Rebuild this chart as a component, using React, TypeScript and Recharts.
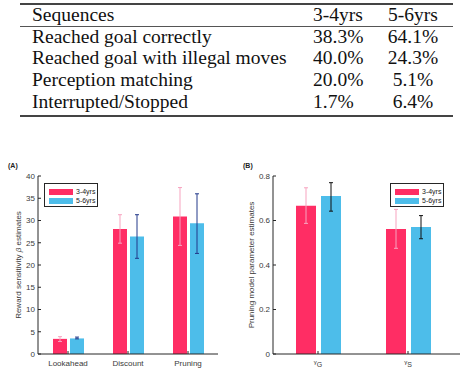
import React from 'react';
import { BarChart, Bar, XAxis, YAxis, ErrorBar, Legend, Label } from 'recharts';

// ---------- table data ----------
const tableHeader = ['Sequences', '3-4yrs', '5-6yrs'];
const sequenceNames = [
  'Reached goal correctly',
  'Reached goal with illegal moves',
  'Perception matching',
  'Interrupted/Stopped',
];
const pctYoung = ['38.3%', '40.0%', '20.0%', '1.7%'];
const pctOld = ['64.1%', '24.3%', '5.1%', '6.4%'];

// ---------- chart data ----------
const seriesNames = ['3-4yrs', '5-6yrs'];

const modelNames = ['Lookahead', 'Discount', 'Pruning'];
const betaYoung = [3.4, 28.1, 30.9];
const betaYoungLow = [2.8, 24.9, 24.4];
const betaYoungHigh = [3.9, 31.3, 37.4];
const betaOld = [3.5, 26.4, 29.4];
const betaOldLow = [3.4, 21.5, 22.6];
const betaOldHigh = [3.8, 31.3, 36.0];
const betaTicks = [0, 5, 10, 15, 20, 25, 30, 35, 40];

const paramNames = ['G', 'S'];
const paramYoung = [0.666, 0.562];
const paramYoungLow = [0.587, 0.475];
const paramYoungHigh = [0.747, 0.65];
const paramOld = [0.71, 0.571];
const paramOldLow = [0.642, 0.518];
const paramOldHigh = [0.77, 0.622];
const paramTicks = [0, 0.2, 0.4, 0.6, 0.8];

const RED = '#ff2d64';
const BLUE = '#4dbdea';
const PINK_ERR = '#f7a3bf';
const NAVY_ERR = '#23398a';
const AXIS = '#262626';
const TICKTXT = '#3a3a3a';
const SANS = '"Liberation Sans", Arial, sans-serif';
const SERIF = '"Liberation Serif", Tinos, "Times New Roman", Times, "DejaVu Serif", serif';

const build = (names, y, yl, yh, o, ol, oh) =>
  names.map((name, i) => ({
    name,
    young: y[i],
    youngErr: [y[i] - yl[i], yh[i] - y[i]],
    old: o[i],
    oldErr: [o[i] - ol[i], oh[i] - o[i]],
  }));

const dataA = build(modelNames, betaYoung, betaYoungLow, betaYoungHigh, betaOld, betaOldLow, betaOldHigh);
const dataB = build(paramNames, paramYoung, paramYoungLow, paramYoungHigh, paramOld, paramOldLow, paramOldHigh);

const LegendBox = () => (
  <div
    style={{
      border: `1px solid ${AXIS}`,
      background: '#fff',
      width: 54,
      height: 24,
      boxSizing: 'border-box',
      fontFamily: SANS,
      fontSize: 7,
      color: '#222',
      padding: '3px 0 0 4px',
      whiteSpace: 'nowrap',
    }}
  >
    {seriesNames.map((s, i) => (
      <div key={s} style={{ display: 'flex', alignItems: 'center', height: 9, lineHeight: '9px' }}>
        <span
          style={{ display: 'inline-block', flexShrink: 0, width: 24, height: 6, background: i === 0 ? RED : BLUE, marginRight: 3 }}
        />
        <span style={{ flexShrink: 0 }}>{s}</span>
      </div>
    ))}
  </div>
);

const tickStyle = { fontSize: 8, fill: TICKTXT, fontFamily: SANS };

const YLabel = ({ viewBox, x, children }) => {
  const cy = viewBox.y + viewBox.height / 2;
  return (
    <text
      x={0}
      y={0}
      transform={`translate(${x}, ${cy}) rotate(-90)`}
      textAnchor="middle"
      fontSize={8}
      fill={TICKTXT}
      fontFamily={SANS}
    >
      {children}
    </text>
  );
};

const GammaTick = (props) => {
  const { x, y, payload } = props;
  return (
    <text x={x} y={y + 5} textAnchor="middle" fontSize={8} fill={TICKTXT} fontFamily={SANS}>
      <tspan fontSize={6} dy={-1}>γ</tspan>
      <tspan fontSize={7} dy={2.5}>{payload.value}</tspan>
    </text>
  );
};

const ChartA = () => (
  <BarChart
    width={236}
    height={222}
    data={dataA}
    margin={{ top: 16, right: 18, bottom: 8, left: 8 }}
    barSize={14}
    barGap={3}
  >
    <XAxis
      dataKey="name"
      height={20}
      tickSize={-3}
      tickMargin={9}
      tick={tickStyle}
      stroke={AXIS}
      axisLine={{ stroke: AXIS }}
      tickLine={{ stroke: AXIS }}
    />
    <XAxis
      xAxisId="top"
      dataKey="name"
      orientation="top"
      height={0}
      tickSize={-3}
      tickFormatter={() => ''}
      axisLine={{ stroke: AXIS }}
      tickLine={{ stroke: AXIS }}
    />
    <YAxis
      width={30}
      domain={[0, 40]}
      ticks={betaTicks}
      tickSize={-3}
      tickMargin={6}
      tick={tickStyle}
      axisLine={{ stroke: AXIS }}
      tickLine={{ stroke: AXIS }}
      interval={0}
    >
      <Label
        content={(p) => (
          <YLabel viewBox={p.viewBox} x={21}>
            Reward sensitivity <tspan fontStyle="italic">β</tspan> estimates
          </YLabel>
        )}
      />
    </YAxis>
    <YAxis
      yAxisId="right"
      orientation="right"
      width={0}
      domain={[0, 40]}
      ticks={betaTicks}
      tickSize={-3}
      tickFormatter={() => ''}
      axisLine={{ stroke: AXIS }}
      tickLine={{ stroke: AXIS }}
      interval={0}
    />
    <Legend
      layout="vertical"
      align="center"
      verticalAlign="middle"
      content={() => <LegendBox />}
      wrapperStyle={{ left: 44, top: 23, width: 54, height: 24 }}
    />
    <Bar dataKey="young" name={seriesNames[0]} fill={RED} isAnimationActive={false}>
      <ErrorBar dataKey="youngErr" width={2} stroke={PINK_ERR} strokeWidth={1} />
    </Bar>
    <Bar dataKey="old" name={seriesNames[1]} fill={BLUE} isAnimationActive={false}>
      <ErrorBar dataKey="oldErr" width={2} stroke={NAVY_ERR} strokeWidth={1} />
    </Bar>
  </BarChart>
);

const ChartB = () => (
  <BarChart
    width={240}
    height={222}
    data={dataB}
    margin={{ top: 16, right: 8, bottom: 8, left: 8 }}
    barSize={20}
    barGap={5}
  >
    <XAxis
      dataKey="name"
      height={20}
      tickSize={-3}
      tickMargin={9}
      tick={<GammaTick />}
      padding={{ left: 0, right: 7 }}
      axisLine={{ stroke: AXIS }}
      tickLine={{ stroke: AXIS }}
    />
    <XAxis
      xAxisId="top"
      dataKey="name"
      orientation="top"
      height={0}
      tickSize={-3}
      padding={{ left: 0, right: 7 }}
      tickFormatter={() => ''}
      axisLine={{ stroke: AXIS }}
      tickLine={{ stroke: AXIS }}
    />
    <YAxis
      width={37}
      domain={[0, 0.8]}
      ticks={paramTicks}
      tickSize={-3}
      tickMargin={6}
      tick={tickStyle}
      axisLine={{ stroke: AXIS }}
      tickLine={{ stroke: AXIS }}
      interval={0}
    >
      <Label
        content={(p) => (
          <YLabel viewBox={p.viewBox} x={26}>
            Pruning model parameter estimates
          </YLabel>
        )}
      />
    </YAxis>
    <YAxis
      yAxisId="right"
      orientation="right"
      width={0}
      domain={[0, 0.8]}
      ticks={paramTicks}
      tickSize={-3}
      tickFormatter={() => ''}
      axisLine={{ stroke: AXIS }}
      tickLine={{ stroke: AXIS }}
      interval={0}
    />
    <Legend
      layout="vertical"
      align="center"
      verticalAlign="middle"
      content={() => <LegendBox />}
      wrapperStyle={{ left: 162, top: 23, width: 54, height: 24 }}
    />
    <Bar dataKey="young" name={seriesNames[0]} fill={RED} isAnimationActive={false}>
      <ErrorBar dataKey="youngErr" width={2} stroke={PINK_ERR} strokeWidth={1} />
    </Bar>
    <Bar dataKey="old" name={seriesNames[1]} fill={BLUE} isAnimationActive={false}>
      <ErrorBar dataKey="oldErr" width={2} stroke="#111" strokeWidth={1} />
    </Bar>
  </BarChart>
);

const rowCenters = [15, 36.5, 58, 80, 101.5];

const cellBase = { position: 'absolute', lineHeight: '22px', fontFamily: SERIF, whiteSpace: 'nowrap' };

const TableRow = ({ cy, cells }) => (
  <>
    <div style={{ ...cellBase, left: 32, top: cy - 11 }}>{cells[0]}</div>
    <div style={{ ...cellBase, left: 313, top: cy - 11 }}>{cells[1]}</div>
    <div style={{ ...cellBase, left: 373, width: 80, textAlign: 'center', top: cy - 11 }}>{cells[2]}</div>
  </>
);

export default function App() {
  return (
    <div
      style={{
        position: 'absolute',
        left: 0,
        top: 0,
        width: 468,
        height: 382,
        background: '#fff',
        overflow: 'hidden',
      }}
    >
      <div
        style={{
          position: 'absolute',
          left: 0,
          top: 0,
          width: 468,
          height: 130,
          fontFamily: SERIF,
          fontSize: 19.5,
          color: '#111',
        }}
      >
        <div style={{ position: 'absolute', left: 20, top: 3, width: 433, height: 1.5, background: '#444' }} />
        <TableRow cy={rowCenters[0]} cells={tableHeader} />
        <div style={{ position: 'absolute', left: 20, top: 26, width: 433, height: 1, background: '#555' }} />
        {sequenceNames.map((s, i) => (
          <TableRow key={s} cy={rowCenters[i + 1]} cells={[s, pctYoung[i], pctOld[i]]} />
        ))}
        <div style={{ position: 'absolute', left: 20, top: 115, width: 433, height: 1.5, background: '#444' }} />
      </div>

      <div
        style={{ position: 'absolute', left: 8, top: 162, fontFamily: SANS, fontSize: 7, fontWeight: 'bold', color: '#222' }}
      >
        (A)
      </div>
      <div
        style={{ position: 'absolute', left: 243, top: 162, fontFamily: SANS, fontSize: 7, fontWeight: 'bold', color: '#222' }}
      >
        (B)
      </div>

      <div style={{ position: 'absolute', left: 0, top: 160 }}>
        <ChartA />
      </div>
      <div style={{ position: 'absolute', left: 228, top: 160 }}>
        <ChartB />
      </div>
    </div>
  );
}
